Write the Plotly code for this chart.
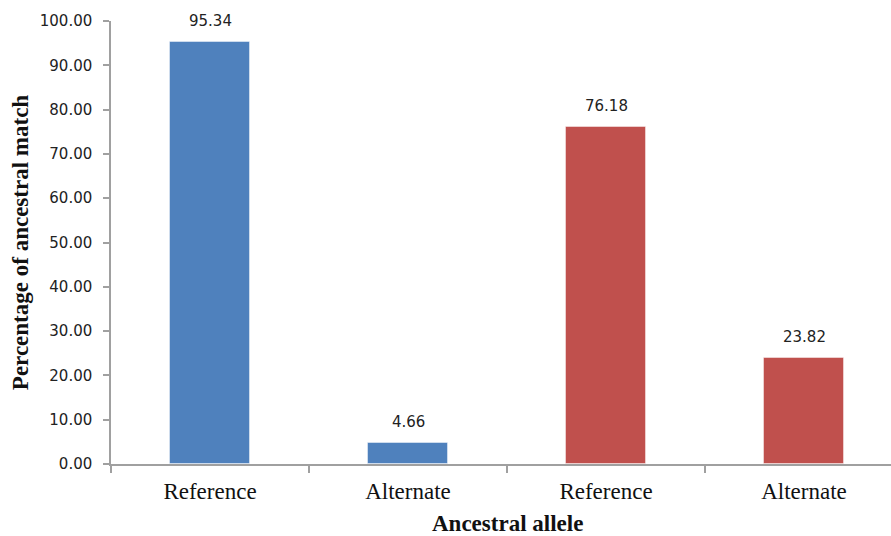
import plotly.graph_objects as go

# Ancestral allele match, two sample groups (blue / red)
categories = ["Reference", "Alternate", "Reference", "Alternate"]
percentages = [95.34, 4.66, 76.18, 23.82]
bar_colors = ["#4F81BD", "#4F81BD", "#C0504D", "#C0504D"]
y_ticks = [0, 10, 20, 30, 40, 50, 60, 70, 80, 90, 100]

positions = list(range(len(categories)))
boundaries = [p - 0.5 for p in positions] + [positions[-1] + 0.5]

fig = go.Figure()
fig.add_trace(go.Bar(
    x=positions,
    y=percentages,
    width=0.4,
    marker=dict(color=bar_colors, line=dict(color="rgba(255,255,255,0.45)", width=1)),
    hoverinfo="x+y",
))

# value labels above each bar
for p, v in zip(positions, percentages):
    fig.add_annotation(
        x=p, y=v, xref="x", yref="y",
        text=f"{v:.2f}", showarrow=False,
        yanchor="middle", yshift=21,
        font=dict(family="DejaVu Sans", size=15, color="#222222"),
    )

# x-axis title centred under the full category span
fig.add_annotation(
    x=(positions[0] + positions[-1]) / 2, xref="x",
    y=0, yref="paper", yshift=-59, yanchor="middle",
    text="<b>Ancestral allele</b>", showarrow=False,
    font=dict(family="Liberation Serif", size=23, color="#111111"),
)

W, H = 891, 536
ml, mt, mb = 111, 21, 72
span_px = 198  # pixels per category slot
x_hi = -0.5 + (W - ml) / span_px

fig.update_layout(
    width=W, height=H,
    margin=dict(l=ml, r=0, t=mt, b=mb),
    plot_bgcolor="white", paper_bgcolor="white",
    showlegend=False,
    bargap=0,
    xaxis=dict(
        range=[-0.5, x_hi],
        tickmode="array", tickvals=positions, ticktext=categories,
        ticks="", showgrid=False, zeroline=False,
        showline=True, linecolor="#A0A0A0", linewidth=1.5,
        tickfont=dict(family="Liberation Serif", size=23, color="#111111"),
        ticklabelstandoff=6,
        minor=dict(tickmode="array", tickvals=boundaries, ticks="outside",
                   ticklen=7, tickcolor="#A0A0A0", tickwidth=1.5),
    ),
    yaxis=dict(
        range=[0, 100],
        tickmode="array", tickvals=y_ticks, ticktext=[f"{t:.2f}" for t in y_ticks],
        ticks="outside", ticklen=6, tickcolor="#A0A0A0", tickwidth=1.5,
        showgrid=False, zeroline=False,
        showline=True, linecolor="#A0A0A0", linewidth=1.5,
        tickfont=dict(family="DejaVu Sans", size=15, color="#222222"),
        ticklabelstandoff=8,
        title=dict(text="<b>Percentage of ancestral match</b>", standoff=5,
                   font=dict(family="Liberation Serif", size=23, color="#111111")),
    ),
)

fig.write_html("out.html")
